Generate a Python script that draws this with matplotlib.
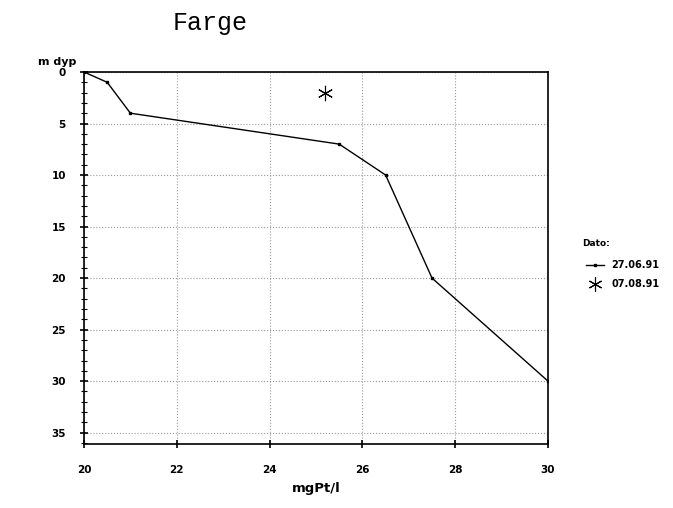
import matplotlib
matplotlib.use("Agg")
import matplotlib.pyplot as plt
import numpy as np
from matplotlib.ticker import MultipleLocator
from matplotlib.lines import Line2D

# data
farge_270691 = [20, 20.5, 21, 25.5, 26.5, 27.5, 30]
dyp_270691 = [0, 1, 4, 7, 10, 20, 30]
farge_070891 = [25.2]
dyp_070891 = [2]
dates = ['27.06.91', '07.08.91']

fig = plt.figure(figsize=(6.73, 5.08), dpi=100)
ax = fig.add_axes([0.1248, 0.126, 0.6895, 0.7323])

ax.plot(farge_270691, dyp_270691, 'k-', lw=1, marker='s', ms=2)
# asterisk marker
ax.plot(farge_070891, dyp_070891, ls='none', color='k', marker=(6, 2, 0), ms=11, mew=0.8)

ax.set_xlim(20, 30)
ax.set_ylim(36.1, 0)
ax.set_xticks(np.arange(20, 31, 2))
ax.set_yticks(np.arange(0, 36, 5))
ax.yaxis.set_minor_locator(MultipleLocator(1))
ax.tick_params(axis='both', direction='inout', length=6, width=1.2, labelsize=7.5)
ax.tick_params(axis='y', which='minor', direction='inout', length=4, width=0.8)
for lab in ax.get_xticklabels() + ax.get_yticklabels():
    lab.set_fontweight('bold')
ax.tick_params(axis='x', pad=12)
ax.tick_params(axis='y', pad=10)
ax.grid(True, linestyle=':', color='#999999', lw=0.8)
for s in ax.spines.values():
    s.set_linewidth(1.2)

ax.set_xlabel('mgPt/l', fontsize=9.5, fontweight='bold', labelpad=5)
fig.text(0.056, 0.872, 'm dyp', fontsize=8, fontweight='bold')
fig.text(0.312, 0.955, 'Farge', fontsize=18, family='Liberation Mono', ha='center', va='center')

# legend
fig.text(0.865, 0.515, 'Dato:', fontsize=6.5, fontweight='bold')
h1 = Line2D([0], [0], color='k', lw=1, marker='s', ms=2)
h2 = Line2D([0], [0], color='k', marker=(6, 2, 0), ls='none', ms=10, mew=0.8)
leg = fig.legend([h1, h2], dates, loc='upper left', bbox_to_anchor=(0.858, 0.505),
                 frameon=False, handlelength=1.8, prop={'weight': 'bold', 'size': 7},
                 labelspacing=0.9)

fig.savefig('out.png', dpi=100)
